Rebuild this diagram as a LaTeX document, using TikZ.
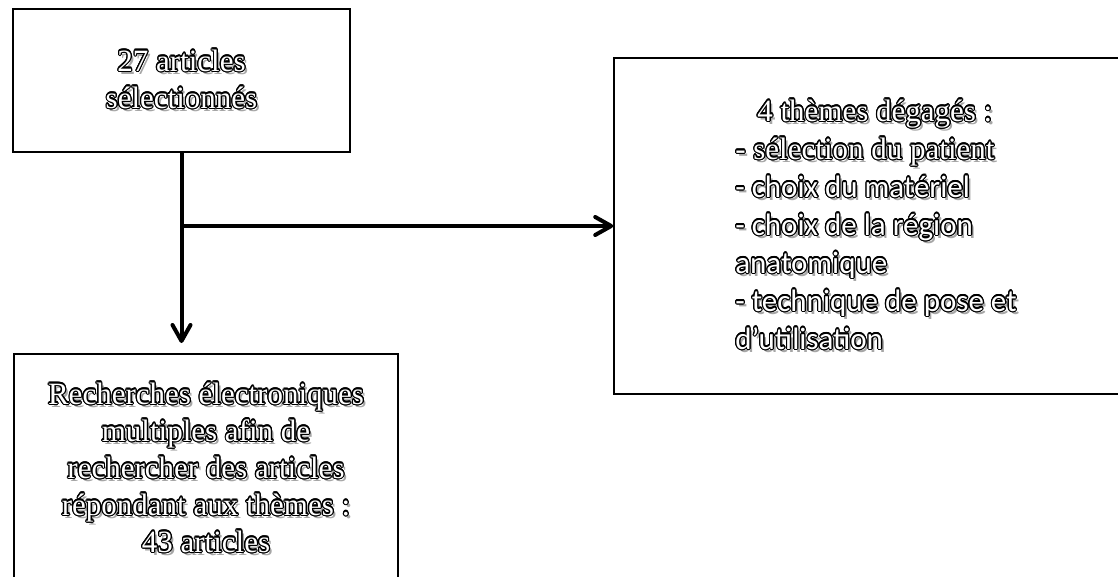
\documentclass[tikz,border=0pt]{standalone}
\usepackage{fontspec}
\usepackage{contour}
\usepackage{tikz}
\usetikzlibrary{arrows.meta}
\setmainfont{Liberation Serif}
\newfontfamily\calib{Carlito}
\contourlength{0.6pt}
\contournumber{16}
% outlined text with a soft shadow
\newcommand\outl[1]{\rlap{\kern1.4pt\raisebox{-1.6pt}{\color{black!35}#1}}{\color{white}\contour{black}{#1}}}

\begin{document}
\begin{tikzpicture}[x=0.5pt, y=-0.5pt, thick,
    box/.style = {draw, line width=0.8pt, rectangle, align=center, inner sep=0pt},
    arr/.style = {line width=2pt, -{Straight Barb[length=8pt,width=9pt,round]}}]
  \useasboundingbox (0,0) rectangle (1118,577);
  \clip (0,0) rectangle (1118,577);
  \node[box, minimum width=168.5pt, minimum height=71.5pt,
        font=\fontsize{15.5}{18.5}\selectfont] (sel) at (181.5,80.5)
        {\outl{27 articles}\\\outl{sélectionnés}};
  \node[box, minimum width=262pt, minimum height=168pt, align=left,
        font=\fontsize{15.5}{19}\selectfont] (themes) at (876,226)
        {\hspace*{11pt}\outl{4 thèmes dégagés :}\\
         \outl{- sélection du patient}\\
         {\calib\outl{- choix du matériel}}\\
         {\calib\outl{- choix de la région}}\\
         {\calib\outl{anatomique}}\\
         {\calib\outl{- technique de pose et}}\\
         {\calib\outl{d’utilisation}}};
  \node[box, minimum width=192pt, minimum height=115pt,
        font=\fontsize{15.5}{18.5}\selectfont] (rech) at (206,469)
        {\outl{Recherches électroniques}\\\outl{multiples afin de}\\
         \outl{rechercher des articles}\\\outl{répondant aux thèmes :}\\
         \outl{43 articles}};
  \coordinate (down) at (181.5,343);
  \draw[arr] (sel.south) -- (down);
  \draw[arr] (sel.south |- themes.west) -- (themes.west);
\end{tikzpicture}
\end{document}
